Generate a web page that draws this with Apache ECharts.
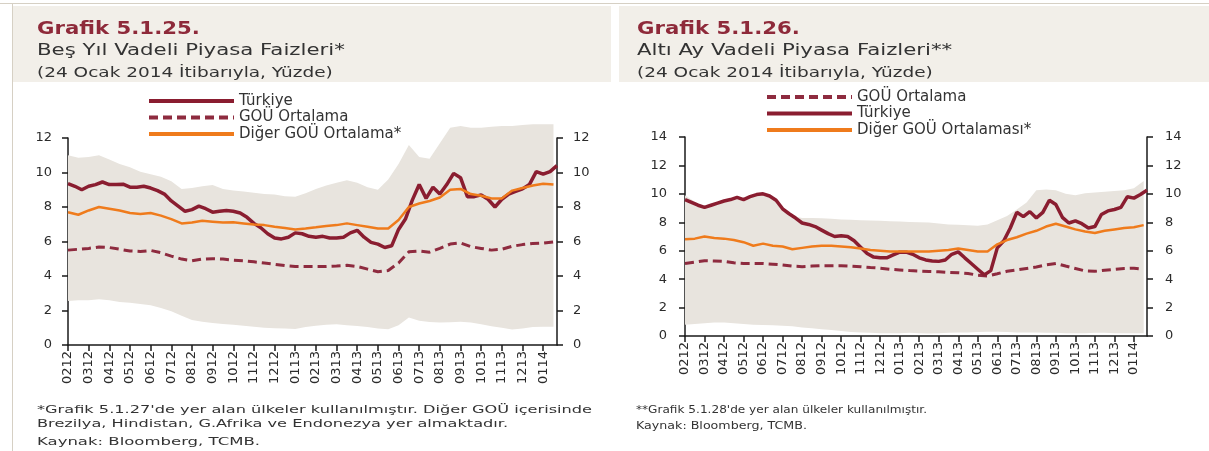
<!DOCTYPE html>
<html lang="tr">
<head>
<meta charset="UTF-8">
<title>Vadeli Piyasa Faizleri</title>
<style>
  html, body { margin: 0; padding: 0; background: #fff; }
  #chart { width: 1209px; height: 451px; }
</style>
</head>
<body>
<div id="chart"></div>
<script src="https://cdn.jsdelivr.net/npm/echarts@6/dist/echarts.min.js"></script>
<script>
// ay etiketleri (AAYY), Şubat 2012 - Ocak 2014
var months = ['0212','0312','0412','0512','0612','0712','0812','0912','1012','1112','1212','0113',
              '0213','0313','0413','0513','0613','0713','0813','0913','1013','1113','1213','0114'];

// Grafik 5.1.25 - beş yıl vadeli (Türkiye: ayda 3 nokta, diğerleri: ayda 2 nokta)
var tr5 = [9.35,9.2,9.0,9.2,9.3,9.45,9.3,9.3,9.32,9.15,9.15,9.2,
           9.1,8.95,8.75,8.35,8.05,7.75,7.85,8.05,7.9,7.7,7.75,7.8,
           7.75,7.65,7.4,7.05,6.8,6.45,6.2,6.15,6.25,6.5,6.45,6.3,
           6.25,6.3,6.2,6.2,6.25,6.5,6.65,6.25,5.95,5.85,5.65,5.75,
           6.7,7.3,8.4,9.3,8.5,9.15,8.75,9.3,9.95,9.7,8.6,8.6,
           8.7,8.45,8.0,8.45,8.75,8.9,9.05,9.3,10.05,9.9,10.05,10.4];
var gou5 = [5.5,5.55,5.6,5.68,5.65,5.55,5.45,5.42,5.48,5.35,5.15,4.98,
            4.88,4.98,5.0,4.98,4.92,4.88,4.82,4.75,4.68,4.6,4.55,4.55,
            4.55,4.55,4.58,4.62,4.55,4.4,4.25,4.32,4.75,5.4,5.45,5.38,
            5.6,5.85,5.92,5.7,5.6,5.5,5.55,5.72,5.82,5.88,5.9,5.98];
var diger5 = [7.7,7.55,7.8,8.0,7.9,7.8,7.65,7.6,7.65,7.5,7.3,7.05,
              7.1,7.2,7.15,7.1,7.12,7.05,6.98,6.95,6.85,6.78,6.7,6.75,
              6.82,6.9,6.95,7.05,6.95,6.85,6.75,6.75,7.25,8.0,8.2,8.35,
              8.55,9.0,9.05,8.75,8.65,8.5,8.5,8.95,9.1,9.25,9.35,9.3];
var hi5 = [11.0,10.85,10.9,11.0,10.75,10.5,10.3,10.05,9.9,9.75,9.5,9.05,
           9.1,9.2,9.28,9.05,8.95,8.9,8.82,8.75,8.72,8.62,8.6,8.8,
           9.05,9.25,9.4,9.55,9.4,9.15,9.0,9.6,10.5,11.6,10.9,10.8,
           11.7,12.6,12.7,12.6,12.6,12.65,12.7,12.7,12.75,12.8,12.8,12.8];
var lo5 = [2.55,2.6,2.6,2.65,2.6,2.5,2.45,2.38,2.3,2.15,1.95,1.7,
           1.45,1.35,1.28,1.22,1.18,1.12,1.06,1.0,0.97,0.95,0.93,1.05,
           1.12,1.18,1.2,1.15,1.1,1.05,0.95,0.92,1.15,1.6,1.4,1.33,
           1.3,1.32,1.35,1.3,1.2,1.08,1.0,0.9,0.95,1.05,1.06,1.06];

// Grafik 5.1.26 - altı ay vadeli
var tr6 = [9.6,9.4,9.2,9.05,9.2,9.35,9.5,9.6,9.75,9.6,9.8,9.95,
           10.0,9.85,9.55,8.95,8.6,8.3,7.95,7.85,7.7,7.45,7.2,7.0,
           7.05,7.0,6.7,6.25,5.8,5.55,5.5,5.5,5.7,5.9,5.9,5.75,
           5.5,5.35,5.28,5.25,5.35,5.75,5.92,5.5,5.1,4.7,4.3,4.6,
           6.2,6.7,7.6,8.7,8.4,8.75,8.3,8.7,9.55,9.25,8.35,7.95,
           8.1,7.9,7.6,7.7,8.55,8.8,8.9,9.05,9.8,9.7,9.95,10.25];
var gou6 = [5.1,5.2,5.3,5.28,5.25,5.15,5.1,5.1,5.1,5.05,5.0,4.92,
            4.88,4.92,4.95,4.95,4.95,4.92,4.88,4.82,4.77,4.7,4.65,4.6,
            4.57,4.54,4.52,4.48,4.45,4.4,4.28,4.22,4.38,4.55,4.65,4.75,
            4.85,5.0,5.1,4.92,4.75,4.58,4.55,4.62,4.68,4.75,4.77,4.7];
var diger6 = [6.8,6.85,7.0,6.9,6.85,6.75,6.6,6.35,6.5,6.35,6.3,6.1,
              6.2,6.3,6.35,6.35,6.3,6.25,6.15,6.05,6.0,5.95,5.95,5.95,
              5.95,5.95,6.0,6.05,6.15,6.05,5.95,5.95,6.45,6.75,6.95,7.2,
              7.4,7.7,7.9,7.7,7.5,7.35,7.25,7.4,7.5,7.6,7.65,7.8];
var hi6 = [9.9,9.45,9.1,9.3,9.5,9.7,9.65,9.9,10.0,9.75,9.0,8.45,
           8.3,8.3,8.28,8.25,8.2,8.18,8.15,8.12,8.1,8.08,8.05,8.02,
           8.0,7.98,7.92,7.85,7.82,7.8,7.75,7.85,8.15,8.45,8.9,9.4,
           10.25,10.3,10.25,10.0,9.9,10.05,10.1,10.15,10.2,10.25,10.4,10.9];
var lo6 = [0.8,0.85,0.9,0.95,0.95,0.9,0.85,0.8,0.78,0.75,0.72,0.68,
           0.6,0.55,0.48,0.42,0.35,0.28,0.25,0.22,0.2,0.2,0.2,0.22,
           0.2,0.18,0.2,0.22,0.25,0.25,0.28,0.3,0.3,0.28,0.25,0.25,
           0.25,0.22,0.22,0.2,0.2,0.2,0.22,0.22,0.2,0.2,0.2,0.2];

var RED = '#8a1d30', RED2 = '#8e2b3f', ORANGE = '#ef7b1c', BAND = '#e8e4de';
var FONT = 'DejaVu Sans';

// x ekseninde ay cinsinden konum
function pts(arr, step) {
  return arr.map(function (v, i) { return [i * step, v]; });
}
// bant için değer önce gelir ki yığma y üzerinde yapılsın
function bandPts(arr) {
  return arr.map(function (v, i) { return [v, i * 0.5]; });
}
function spread(hi, lo) {
  return bandPts(hi.map(function (v, i) { return +(v - lo[i]).toFixed(2); }));
}

function xAxisFor(g) {
  return {
    type: 'value', gridIndex: g, min: 0, max: 23.67, interval: 1,
    axisLine: { lineStyle: { color: '#1a1a1a', width: 1.5 } },
    axisTick: { length: 6, lineStyle: { color: '#1a1a1a', width: 1.5 } },
    splitLine: { show: false },
    axisLabel: {
      rotate: 90, margin: 6, color: '#2b2b2b', fontFamily: FONT, fontSize: 13,
      showMaxLabel: false,
      formatter: function (v) { return months[v] || ''; }
    }
  };
}
function yAxisFor(g, pos, max, margin) {
  return {
    type: 'value', gridIndex: g, position: pos, min: 0, max: max, interval: 2,
    axisLine: { show: true, lineStyle: { color: '#1a1a1a', width: 1.5 } },
    axisTick: { show: true, length: 6, lineStyle: { color: '#1a1a1a', width: 1.5 } },
    splitLine: { show: false },
    axisLabel: { margin: margin, color: '#2b2b2b', fontFamily: FONT, fontSize: 13 }
  };
}

function panelSeries(g, tr, gou, diger, hi, lo, dName) {
  var base = { type: 'line', xAxisIndex: g, yAxisIndex: g * 2, symbol: 'none', silent: true };
  return [
    Object.assign({}, base, { name: 'alt' + g, stack: 'band' + g, data: bandPts(lo),
      encode: { x: 1, y: 0 },
      lineStyle: { width: 0, opacity: 0 }, areaStyle: { opacity: 0 }, z: 1 }),
    Object.assign({}, base, { name: 'aralik' + g, stack: 'band' + g, data: spread(hi, lo),
      encode: { x: 1, y: 0 }, clip: false,
      lineStyle: { width: 0, opacity: 0 }, areaStyle: { color: BAND, opacity: 1 }, z: 1 }),
    Object.assign({}, base, { name: 'GOÜ Ortalama', data: pts(gou, 0.5),
      lineStyle: { color: RED2, width: 3, type: [9, 5] }, itemStyle: { color: RED2 }, z: 3 }),
    Object.assign({}, base, { name: 'Türkiye', data: pts(tr, 1 / 3),
      lineStyle: { color: RED, width: 3.5 }, itemStyle: { color: RED }, z: 4 }),
    Object.assign({}, base, { name: dName, data: pts(diger, 0.5),
      lineStyle: { color: ORANGE, width: 2.5 }, itemStyle: { color: ORANGE }, z: 5 })
  ];
}

function txt(x, y, s, size, sx, color, bold) {
  return {
    type: 'text', x: x, y: y, scaleX: sx, silent: true,
    style: { text: s, fill: color, fontFamily: FONT, fontSize: size,
             fontWeight: bold ? 'bold' : 'normal', verticalAlign: 'middle' }
  };
}

function legendFor(left, top, names) {
  return {
    left: left, top: top, orient: 'vertical', padding: 0,
    itemWidth: 85, itemHeight: 4, itemGap: 1.5, selectedMode: false,
    itemStyle: { opacity: 0 }, lineStyle: { width: 4 },
    data: names,
    textStyle: { fontFamily: FONT, fontSize: 15, color: '#333333' }
  };
}

var chart = echarts.init(document.getElementById('chart'));
chart.setOption({
  animation: false,
  backgroundColor: '#ffffff',
  graphic: [
    { type: 'rect', shape: { x: 0, y: 3, width: 1209, height: 1 }, style: { fill: '#d6d0c4' }, silent: true },
    { type: 'rect', shape: { x: 12, y: 3, width: 1, height: 448 }, style: { fill: '#d6d0c4' }, silent: true },
    { type: 'rect', shape: { x: 13, y: 6, width: 598, height: 76 }, style: { fill: '#f2efe9' }, silent: true },
    { type: 'rect', shape: { x: 619, y: 6, width: 590, height: 76 }, style: { fill: '#f2efe9' }, silent: true },
    txt(37, 29, 'Grafik 5.1.25.', 18, 1.18, '#8e2a3a', true),
    txt(37, 51, 'Beş Yıl Vadeli Piyasa Faizleri*', 16, 1.33, '#333333', false),
    txt(37, 73, '(24 Ocak 2014 İtibarıyla, Yüzde)', 14, 1.32, '#333333', false),
    txt(637, 29, 'Grafik 5.1.26.', 18, 1.18, '#8e2a3a', true),
    txt(637, 51, 'Altı Ay Vadeli Piyasa Faizleri**', 16, 1.33, '#333333', false),
    txt(637, 73, '(24 Ocak 2014 İtibarıyla, Yüzde)', 14, 1.32, '#333333', false),
    txt(37, 410, '*Grafik 5.1.27\'de yer alan ülkeler kullanılmıştır. Diğer GOÜ içerisinde', 11, 1.47, '#333333', false),
    txt(37, 424, 'Brezilya, Hindistan, G.Afrika ve Endonezya yer almaktadır.', 11, 1.47, '#333333', false),
    txt(37, 442, 'Kaynak: Bloomberg, TCMB.', 11, 1.5, '#333333', false),
    txt(636, 410, '**Grafik 5.1.28\'de yer alan ülkeler kullanılmıştır.', 11, 1.1, '#333333', false),
    txt(636, 426, 'Kaynak: Bloomberg, TCMB.', 11, 1.15, '#333333', false)
  ],
  legend: [
    legendFor(147, 93.5, ['Türkiye', 'GOÜ Ortalama', 'Diğer GOÜ Ortalama*']),
    legendFor(765, 89.5, ['GOÜ Ortalama', 'Türkiye', 'Diğer GOÜ Ortalaması*'])
  ],
  grid: [
    { left: 68, top: 138, width: 489, height: 207 },
    { left: 685, top: 137, width: 462, height: 199 }
  ],
  xAxis: [xAxisFor(0), xAxisFor(1)],
  yAxis: [yAxisFor(0, 'left', 12, 16), yAxisFor(0, 'right', 12, 16),
          yAxisFor(1, 'left', 14, 18), yAxisFor(1, 'right', 14, 18)],
  series: panelSeries(0, tr5, gou5, diger5, hi5, lo5, 'Diğer GOÜ Ortalama*')
    .concat(panelSeries(1, tr6, gou6, diger6, hi6, lo6, 'Diğer GOÜ Ortalaması*'))
});
</script>
</body>
</html>
